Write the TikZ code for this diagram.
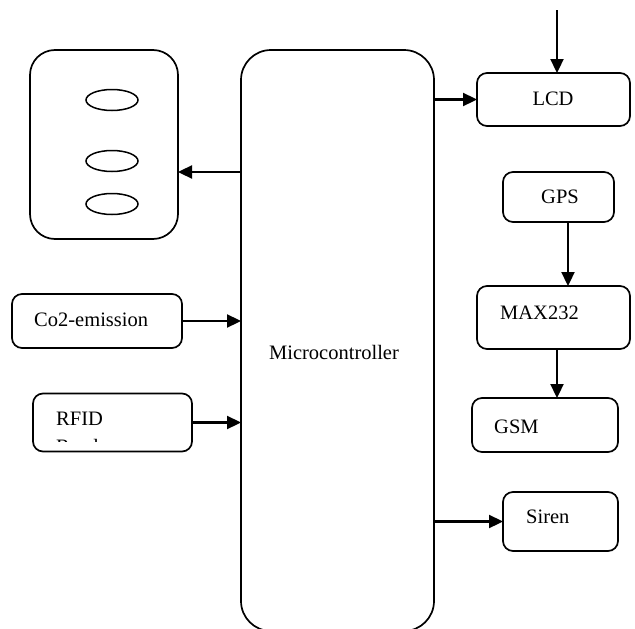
\documentclass[tikz,border=0pt]{standalone}
\usepackage{fontspec}
\setmainfont{Liberation Serif}
\usetikzlibrary{arrows.meta,calc,shapes.geometric}
\begin{document}
\begin{tikzpicture}[x=1pt,y=-1pt,
  box/.style={draw,line width=1.7pt,rounded corners=10pt,inner sep=0pt,outer sep=0pt},
  bigbox/.style={draw,line width=1.7pt,inner sep=0pt,outer sep=0pt},
  led/.style={draw,ellipse,line width=1.5pt,minimum width=52pt,minimum height=21pt,inner sep=0pt},
  lbl/.style={inner sep=0pt,font=\fontsize{20.5}{24}\selectfont},
  arr/.style={line width=2.3pt,-{Triangle[length=14pt,width=13pt]}}]
\useasboundingbox (0,0) rectangle (635,629);
\clip (0,0) rectangle (635,629);
% boxes
\node[bigbox,rounded corners=30pt,minimum width=193pt,minimum height=581pt] (mcu) at (337.5,340.5) {};
\node[bigbox,rounded corners=25pt,minimum width=148pt,minimum height=189pt] (ledbox) at (104,144.5) {};
\node[box,minimum width=153pt,minimum height=53pt] (lcd) at (553.5,99.5) {};
\node[box,minimum width=111pt,minimum height=50pt] (gps) at (558.5,197) {};
\node[box,minimum width=153pt,minimum height=63pt] (max) at (553.5,317.5) {};
\node[box,minimum width=146pt,minimum height=54pt] (gsm) at (545,425) {};
\node[box,minimum width=115pt,minimum height=59pt] (siren) at (560.5,521.5) {};
\node[box,minimum width=170pt,minimum height=54pt] (co2) at (97,321) {};
\node[box,minimum width=159pt,minimum height=58pt] (rfid) at (112.5,422.5) {};
% leds
\node[led] (l1) at (112,100) {};
\node[led] (l2) at (112,161) {};
\node[led] (l3) at (112,204) {};
% labels
\node[lbl] (tmcu) at (334,352) {Microcontroller};
\node[lbl] (tlcd) at (553,99) {LCD};
\node[lbl] (tgps) at (560,197) {GPS};
\node[lbl,anchor=west] (tmax) at (500,313) {MAX232};
\node[lbl,anchor=west] (tgsm) at (494,427) {GSM};
\node[lbl,anchor=west] (tsiren) at (526,517) {Siren};
\node[lbl,anchor=west] (tco2) at (34,320) {Co2-emission};
\node[lbl,anchor=west] (trfid) at (56,419) {RFID};
\begin{scope}
\clip (40,400) rectangle (190,441);
\node[lbl,anchor=west] (treader) at (56,446) {Reader};
\end{scope}
% connectors
\coordinate (lcdin) at (557,10);
\coordinate (gpsout) at (568,222);
\coordinate (maxout) at (557,349);
\coordinate (ledy) at (0,172);
\draw[arr] (mcu.west |- ledy) -- (ledbox.east |- ledy);
\draw[arr] (co2.east) -- (co2.east -| mcu.west);
\draw[arr] (rfid.east) -- (rfid.east -| mcu.west);
\draw[arr] (lcd.west -| mcu.east) -- (lcd.west);
\draw[arr] (lcdin) -- (lcdin |- lcd.north);
\draw[arr] (gpsout |- gps.south) -- (gpsout |- max.north);
\draw[arr] (maxout |- max.south) -- (maxout |- gsm.north);
\draw[arr] (siren.west -| mcu.east) -- (siren.west);
\end{tikzpicture}
\end{document}
